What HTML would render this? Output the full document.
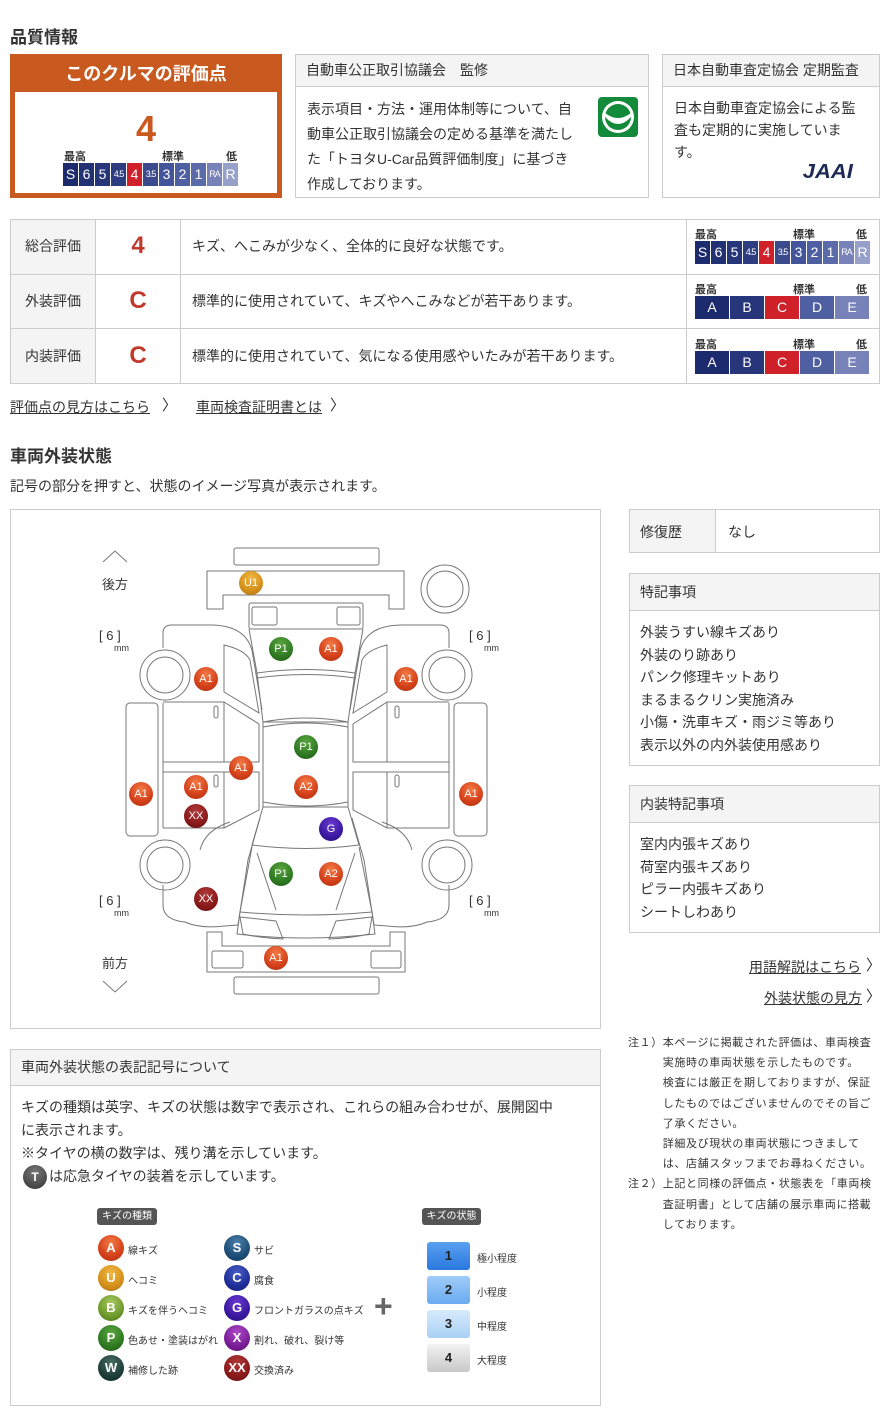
<!DOCTYPE html>
<html><head><meta charset="utf-8">
<style>
*{margin:0;padding:0;box-sizing:border-box}
body{width:890px;height:1425px;background:#fff;position:relative;font-family:"Liberation Sans","Noto Sans CJK JP",sans-serif;color:#333;overflow:hidden}
.a{position:absolute;white-space:nowrap}
.box{position:absolute;border:1px solid #ccc;background:#fff}
.hd{position:absolute;left:0;right:0;top:0;background:#f4f4f4;border-bottom:1px solid #ccc;font-size:14px;padding-left:10px}
.sc{position:absolute;display:flex;gap:1px}
.sc div{color:#fff;text-align:center;font-size:14px;height:23px;line-height:23px}
.sc .s{font-size:9px;letter-spacing:-1px}
.lbl{position:absolute;font-size:11px;font-weight:bold;color:#333}
.t14{font-size:14px;line-height:22.5px}
.lk{font-size:14px;text-decoration:underline;color:#333}
.b{position:absolute;width:24px;height:24px;border-radius:50%;color:#fff;font-size:11px;text-align:center;line-height:24px;font-family:"Liberation Sans",sans-serif}
.bA{background:radial-gradient(circle at 50% 30%,#f47a45,#d4401a 60%,#a8300f)}
.bP{background:radial-gradient(circle at 50% 30%,#5aa640,#2f7a22 60%,#1e5a15)}
.bU{background:radial-gradient(circle at 50% 30%,#f2b844,#d4901a 60%,#a86e10)}
.bX{background:radial-gradient(circle at 50% 30%,#b13a3a,#8a1a1a 60%,#601010)}
.bG{background:radial-gradient(circle at 50% 30%,#6a3ad0,#3a18a0 60%,#280e78)}
.lg{position:absolute;width:26px;height:26px;border-radius:50%;color:#fff;font-weight:bold;font-size:13px;text-align:center;line-height:26px}
.lt{position:absolute;font-size:10px}
.st{position:absolute;left:427px;width:43px;height:28px;border-radius:3px;text-align:center;line-height:28px;font-size:13px;font-weight:bold;color:#222}
.chev{position:absolute;font-size:15px;line-height:15px}
</style></head><body>

<div class="a" style="left:10px;top:23px;font-size:17px;font-weight:bold">品質情報</div>

<!-- orange box -->
<div class="a" style="left:10px;top:54px;width:272px;height:144px;background:#c95a1f"></div>
<div class="a" style="left:10px;top:60px;width:272px;text-align:center;color:#fff;font-size:18px;font-weight:bold">このクルマの評価点</div>
<div class="a" style="left:15px;top:92px;width:262px;height:101px;background:#fff"></div>
<div class="a" style="left:15px;top:108px;width:262px;text-align:center;color:#c95a1f;font-size:36px;font-weight:bold;line-height:42px">4</div>
<div class="lbl" style="left:64px;top:148px">最高</div>
<div class="lbl" style="left:162px;top:148px">標準</div>
<div class="lbl" style="left:226px;top:148px">低</div>
<div class="sc" style="left:63px;top:163px">
<div style="width:15px;background:#1c2a6e">S</div><div style="width:15px;background:#223173">6</div><div style="width:15px;background:#27367a">5</div><div class="s" style="width:15px;background:#2d3d80">4.5</div><div style="width:15px;background:#d0202a">4</div><div class="s" style="width:15px;background:#3a4a8c">3.5</div><div style="width:15px;background:#43549a">3</div><div style="width:15px;background:#4e60a2">2</div><div style="width:15px;background:#5b6ba9">1</div><div class="s" style="width:15px;background:#7783b8">RA</div><div style="width:15px;background:#96a0c8">R</div>
</div>

<!-- box2 -->
<div class="box" style="left:295px;top:54px;width:354px;height:144px">
<div class="hd" style="height:32px;line-height:31px">自動車公正取引協議会　監修</div>
<div class="a t14" style="left:11px;top:42px;line-height:25px">表示項目・方法・運用体制等について、自<br>動車公正取引協議会の定める基準を満たし<br>た「トヨタU-Car品質評価制度」に基づき<br>作成しております。</div>
<div class="a" style="left:302px;top:42px;width:40px;height:40px;background:#138a3a;border-radius:4px">
<svg width="40" height="40"><circle cx="20" cy="20" r="16" fill="#fff"/><circle cx="20" cy="20" r="13" fill="#138a3a"/><path d="M7,16 Q20,26 33,16 L33,20 Q20,34 7,20Z" fill="#fff"/></svg></div>
</div>

<!-- box3 -->
<div class="box" style="left:662px;top:54px;width:218px;height:144px">
<div class="hd" style="height:32px;line-height:31px">日本自動車査定協会 定期監査</div>
<div class="a t14" style="left:11px;top:42px;line-height:22px">日本自動車査定協会による監<br>査も定期的に実施していま<br>す。</div>
<div class="a" style="left:142px;top:106px;font-size:20px;font-weight:bold;font-style:italic;color:#1c2a55;letter-spacing:0px;transform:scaleX(1.1)">JAAI</div>
</div>

<!-- table -->
<div class="box" style="left:10px;top:219px;width:870px;height:165px"></div>
<div class="a" style="left:11px;top:220px;width:84px;height:163px;background:#f4f4f4"></div>
<div class="a" style="left:10px;top:274px;width:870px;height:1px;background:#ccc"></div>
<div class="a" style="left:10px;top:328px;width:870px;height:1px;background:#ccc"></div>
<div class="a" style="left:95px;top:219px;width:1px;height:165px;background:#ccc"></div>
<div class="a" style="left:180px;top:219px;width:1px;height:165px;background:#ccc"></div>
<div class="a" style="left:686px;top:219px;width:1px;height:165px;background:#ccc"></div>
<div class="a" style="left:11px;top:236px;width:84px;text-align:center;font-size:14px">総合評価</div>
<div class="a" style="left:11px;top:291px;width:84px;text-align:center;font-size:14px">外装評価</div>
<div class="a" style="left:11px;top:346px;width:84px;text-align:center;font-size:14px">内装評価</div>
<div class="a" style="left:96px;top:232px;width:84px;text-align:center;font-size:24px;font-weight:bold;color:#c0392b">4</div>
<div class="a" style="left:96px;top:287px;width:84px;text-align:center;font-size:24px;font-weight:bold;color:#c0392b">C</div>
<div class="a" style="left:96px;top:342px;width:84px;text-align:center;font-size:24px;font-weight:bold;color:#c0392b">C</div>
<div class="a" style="left:192px;top:236px;font-size:14px">キズ、へこみが少なく、全体的に良好な状態です。</div>
<div class="a" style="left:192px;top:291px;font-size:14px">標準的に使用されていて、キズやへこみなどが若干あります。</div>
<div class="a" style="left:192px;top:346px;font-size:14px">標準的に使用されていて、気になる使用感やいたみが若干あります。</div>

<div class="lbl" style="left:695px;top:226px">最高</div><div class="lbl" style="left:793px;top:226px">標準</div><div class="lbl" style="left:856px;top:226px">低</div>
<div class="sc" style="left:695px;top:241px">
<div style="width:15px;background:#1c2a6e">S</div><div style="width:15px;background:#223173">6</div><div style="width:15px;background:#27367a">5</div><div class="s" style="width:15px;background:#2d3d80">4.5</div><div style="width:15px;background:#d0202a">4</div><div class="s" style="width:15px;background:#3a4a8c">3.5</div><div style="width:15px;background:#43549a">3</div><div style="width:15px;background:#4e60a2">2</div><div style="width:15px;background:#5b6ba9">1</div><div class="s" style="width:15px;background:#7783b8">RA</div><div style="width:15px;background:#96a0c8">R</div>
</div>
<div class="lbl" style="left:695px;top:281px">最高</div><div class="lbl" style="left:793px;top:281px">標準</div><div class="lbl" style="left:856px;top:281px">低</div>
<div class="sc" style="left:695px;top:296px">
<div style="width:34px;background:#1c2a6e">A</div><div style="width:34px;background:#27367a">B</div><div style="width:34px;background:#d0202a">C</div><div style="width:34px;background:#4e60a2">D</div><div style="width:34px;background:#7783b8">E</div></div>
<div class="lbl" style="left:695px;top:336px">最高</div><div class="lbl" style="left:793px;top:336px">標準</div><div class="lbl" style="left:856px;top:336px">低</div>
<div class="sc" style="left:695px;top:351px">
<div style="width:34px;background:#1c2a6e">A</div><div style="width:34px;background:#27367a">B</div><div style="width:34px;background:#d0202a">C</div><div style="width:34px;background:#4e60a2">D</div><div style="width:34px;background:#7783b8">E</div></div>

<div class="a lk" style="left:10px;top:397px">評価点の見方はこちら</div><div class="chev" style="left:162px;top:398px">〉</div>
<div class="a lk" style="left:196px;top:397px">車両検査証明書とは</div><div class="chev" style="left:330px;top:398px">〉</div>

<div class="a" style="left:10px;top:442px;font-size:17px;font-weight:bold">車両外装状態</div>
<div class="a" style="left:10px;top:476px;font-size:14px">記号の部分を押すと、状態のイメージ写真が表示されます。</div>

<!-- diagram box -->
<div class="box" style="left:10px;top:509px;width:591px;height:520px"></div>
<svg class="a" style="left:0;top:0" width="890" height="1425" fill="none" stroke="#777" stroke-width="1">
<polyline points="103,562 115,551 127,562"/>
<polyline points="103,981 115,992 127,981"/>
<rect x="234" y="548" width="145" height="17" rx="2"/>
<path d="M207,571 H404 V609 H389 V595 H223 V609 H207 Z"/>
<circle cx="445" cy="589" r="24"/><circle cx="445" cy="589" r="18"/>
<circle cx="165" cy="675" r="25"/><circle cx="165" cy="675" r="18"/>
<circle cx="447" cy="675" r="25"/><circle cx="447" cy="675" r="18"/>
<circle cx="165" cy="865" r="25"/><circle cx="165" cy="865" r="18"/>
<circle cx="447" cy="865" r="25"/><circle cx="447" cy="865" r="18"/>
<rect x="249" y="603" width="114" height="26" rx="2"/>
<rect x="252" y="607" width="25" height="18" rx="2"/><rect x="337" y="607" width="23" height="18" rx="2"/>
<path d="M249,629 L257,673 Q306,666 355,673 L363,629"/>
<path d="M257,673 L263,722 Q306,714 348,722 L355,673"/>
<path d="M257,678 Q306,671 355,678"/>
<rect x="263" y="722" width="85" height="85"/>
<path d="M263,727 Q306,719 348,727"/><path d="M263,802 Q306,810 348,802"/>
<path d="M263,807 L252,845 Q306,852 359,845 L348,807"/>
<path d="M252,847 L240,912 Q306,918 372,912 L359,847"/>
<path d="M257,853 L276,910 M355,853 L336,910"/>
<path d="M240,912 L237,934 Q306,942 375,934 L372,912"/>
<path d="M240,917 L243,934 Q260,938 283,939 L276,921 Z M372,917 L369,934 Q352,938 329,939 L336,921 Z"/>
<path d="M207,932 H222 V946 H390 V932 H405 V972 H207 Z"/>
<rect x="212" y="951" width="31" height="17" rx="2"/><rect x="371" y="951" width="30" height="17" rx="2"/>
<rect x="234" y="977" width="145" height="17" rx="2"/>
<rect x="126" y="703" width="32" height="133" rx="4"/><rect x="454" y="703" width="33" height="133" rx="4"/>
<path d="M163,648 V633 Q163,625 172,625 H210 Q245,625 252,650 L262,710"/>
<path d="M163,703 V828 M163,702 H224 V762 H163 M163,772 H224 V828 H163"/>
<path d="M224,702 L259,724 V762 H224 M224,772 H259 V810 L224,828"/>
<path d="M224,645 L224,692 L259,713 L250,660 Q245,650 224,645Z"/>
<path d="M260,818 L248,860 L238,925 L225,926 Q200,929 185,922 Q163,920 163,905 V885"/>
<path d="M230,822 Q205,830 200,850"/>
<rect x="214" y="706" width="4" height="12" rx="2"/><rect x="214" y="775" width="4" height="12" rx="2"/>
<path d="M449,648 V633 Q449,625 440,625 H402 Q367,625 360,650 L350,710"/>
<path d="M449,703 V828 M449,702 H387 V762 H449 M449,772 H387 V828 H449"/>
<path d="M387,702 L353,724 V762 H387 M387,772 H353 V810 L387,828"/>
<path d="M387,645 L387,692 L353,713 L362,660 Q367,650 387,645Z"/>
<path d="M352,818 L364,860 L374,925 L387,926 Q412,929 427,922 Q449,920 449,905 V885"/>
<path d="M382,822 Q407,830 412,850"/>
<rect x="395" y="706" width="4" height="12" rx="2"/><rect x="395" y="775" width="4" height="12" rx="2"/>
</svg>
<div class="a" style="left:102px;top:574px;font-size:13px">後方</div>
<div class="a" style="left:102px;top:953px;font-size:13px">前方</div>
<div class="a" style="left:99px;top:628px;font-size:13px">[ 6 ]</div><div class="a" style="left:114px;top:643px;font-size:9px">mm</div>
<div class="a" style="left:469px;top:628px;font-size:13px">[ 6 ]</div><div class="a" style="left:484px;top:643px;font-size:9px">mm</div>
<div class="a" style="left:99px;top:893px;font-size:13px">[ 6 ]</div><div class="a" style="left:114px;top:908px;font-size:9px">mm</div>
<div class="a" style="left:469px;top:893px;font-size:13px">[ 6 ]</div><div class="a" style="left:484px;top:908px;font-size:9px">mm</div>

<div class="b bU" style="left:239px;top:571px">U1</div>
<div class="b bP" style="left:269px;top:637px">P1</div>
<div class="b bA" style="left:319px;top:637px">A1</div>
<div class="b bA" style="left:194px;top:667px">A1</div>
<div class="b bA" style="left:394px;top:667px">A1</div>
<div class="b bP" style="left:294px;top:735px">P1</div>
<div class="b bA" style="left:229px;top:756px">A1</div>
<div class="b bA" style="left:184px;top:775px">A1</div>
<div class="b bA" style="left:294px;top:775px">A2</div>
<div class="b bA" style="left:129px;top:782px">A1</div>
<div class="b bA" style="left:459px;top:782px">A1</div>
<div class="b bX" style="left:184px;top:804px">XX</div>
<div class="b bG" style="left:319px;top:817px">G</div>
<div class="b bP" style="left:269px;top:862px">P1</div>
<div class="b bA" style="left:319px;top:862px">A2</div>
<div class="b bX" style="left:194px;top:887px">XX</div>
<div class="b bA" style="left:264px;top:946px">A1</div>

<!-- right panels -->
<div class="box" style="left:629px;top:509px;width:251px;height:44px"></div>
<div class="a" style="left:630px;top:510px;width:86px;height:42px;background:#f4f4f4;border-right:1px solid #ccc"></div>
<div class="a" style="left:640px;top:522px;font-size:14px">修復歴</div>
<div class="a" style="left:728px;top:522px;font-size:14px">なし</div>

<div class="box" style="left:629px;top:573px;width:251px;height:193px">
<div class="hd" style="height:37px;line-height:36px">特記事項</div>
<div class="a" style="left:10px;top:47px;font-size:14px;line-height:22.5px">外装うすい線キズあり<br>外装のり跡あり<br>パンク修理キットあり<br>まるまるクリン実施済み<br>小傷・洗車キズ・雨ジミ等あり<br>表示以外の内外装使用感あり</div>
</div>
<div class="box" style="left:629px;top:785px;width:251px;height:148px">
<div class="hd" style="height:37px;line-height:36px">内装特記事項</div>
<div class="a" style="left:10px;top:47px;font-size:14px;line-height:22.5px">室内内張キズあり<br>荷室内張キズあり<br>ピラー内張キズあり<br>シートしわあり</div>
</div>
<div class="a lk" style="left:749px;top:957px">用語解説はこちら</div><div class="chev" style="left:866px;top:958px">〉</div>
<div class="a lk" style="left:764px;top:988px">外装状態の見方</div><div class="chev" style="left:866px;top:989px">〉</div>

<div class="a" style="left:628px;top:1033px;font-size:11px;line-height:20.2px;letter-spacing:0.6px">注１）本ページに掲載された評価は、車両検査<br>　　　実施時の車両状態を示したものです。<br>　　　検査には厳正を期しておりますが、保証<br>　　　したものではございませんのでその旨ご<br>　　　了承ください。<br>　　　詳細及び現状の車両状態につきまして<br>　　　は、店舗スタッフまでお尋ねください。<br>注２）上記と同様の評価点・状態表を「車両検<br>　　　査証明書」として店舗の展示車両に搭載<br>　　　しております。</div>

<!-- legend box -->
<div class="box" style="left:10px;top:1049px;width:591px;height:357px">
<div class="hd" style="height:36px;line-height:35px">車両外装状態の表記記号について</div>
</div>
<div class="a" style="left:21px;top:1096px;font-size:14px;line-height:23px">キズの種類は英字、キズの状態は数字で表示され、これらの組み合わせが、展開図中<br>に表示されます。<br>※タイヤの横の数字は、残り溝を示しています。<br>　　は応急タイヤの装着を示しています。</div>
<div class="a" style="left:23px;top:1165px;width:24px;height:24px;border-radius:50%;background:radial-gradient(circle at 50% 30%,#777,#333);color:#fff;font-size:12px;font-weight:bold;text-align:center;line-height:24px">T</div>

<div class="a" style="left:97px;top:1208px;width:60px;height:17px;background:#555;border-radius:3px;color:#fff;font-size:10px;text-align:center;line-height:17px">キズの種類</div>
<div class="a" style="left:422px;top:1208px;width:59px;height:17px;background:#555;border-radius:3px;color:#fff;font-size:10px;text-align:center;line-height:17px">キズの状態</div>

<div class="lg bA" style="left:98px;top:1235px">A</div><div class="lt" style="left:128px;top:1242px">線キズ</div>
<div class="lg bU" style="left:98px;top:1265px">U</div><div class="lt" style="left:128px;top:1272px">ヘコミ</div>
<div class="lg" style="left:98px;top:1295px;background:radial-gradient(circle at 50% 30%,#a8c860,#6e9a2c 60%,#4e7018)">B</div><div class="lt" style="left:128px;top:1302px">キズを伴うヘコミ</div>
<div class="lg bP" style="left:98px;top:1325px">P</div><div class="lt" style="left:128px;top:1332px">色あせ・塗装はがれ</div>
<div class="lg" style="left:98px;top:1355px;background:radial-gradient(circle at 50% 30%,#4a6e66,#1e3e38 60%,#102a26)">W</div><div class="lt" style="left:128px;top:1362px">補修した跡</div>

<div class="lg" style="left:224px;top:1235px;background:radial-gradient(circle at 50% 30%,#4a7ea8,#1e4e78 60%,#10365a)">S</div><div class="lt" style="left:254px;top:1242px">サビ</div>
<div class="lg" style="left:224px;top:1265px;background:radial-gradient(circle at 50% 30%,#4a5ec8,#1e2e98 60%,#101e70)">C</div><div class="lt" style="left:254px;top:1272px">腐食</div>
<div class="lg bG" style="left:224px;top:1295px">G</div><div class="lt" style="left:254px;top:1302px">フロントガラスの点キズ</div>
<div class="lg" style="left:224px;top:1325px;background:radial-gradient(circle at 50% 30%,#b04ac8,#7a1e98 60%,#5a1070)">X</div><div class="lt" style="left:254px;top:1332px">割れ、破れ、裂け等</div>
<div class="lg bX" style="left:224px;top:1355px">XX</div><div class="lt" style="left:254px;top:1362px">交換済み</div>

<div class="a" style="left:374px;top:1290px;font-size:32px;font-weight:bold;color:#666;line-height:32px">+</div>

<div class="st" style="top:1242px;background:linear-gradient(#5aa0f0,#2a78e0)">1</div><div class="lt" style="left:477px;top:1250px">極小程度</div>
<div class="st" style="top:1276px;background:linear-gradient(#a0ccf8,#6aaaf0)">2</div><div class="lt" style="left:477px;top:1284px">小程度</div>
<div class="st" style="top:1310px;background:linear-gradient(#d8eafc,#a8d0f6)">3</div><div class="lt" style="left:477px;top:1318px">中程度</div>
<div class="st" style="top:1344px;background:linear-gradient(#f2f2f2,#c8c8c8)">4</div><div class="lt" style="left:477px;top:1352px">大程度</div>

</body></html>
